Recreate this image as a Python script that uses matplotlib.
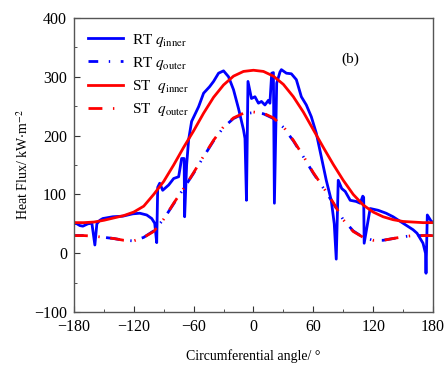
import numpy as np
import matplotlib.pyplot as plt

plt.rcParams['font.family'] = ['Liberation Serif', 'DejaVu Serif']
plt.rcParams['mathtext.fontset'] = 'stix'

# RT inner heat flux
rt_in_ang = [-180, -178, -174, -171, -166, -162, -159, -157, -154, -151, -141, -131, -121, -114,
             -107, -102, -99, -97, -96, -94, -91, -85, -80, -75, -72, -69.5, -69, -67, -65, -62,
             -55, -50, -44, -40, -35, -30, -25, -20, -15, -10, -8.5, -7, -5.5, -2, 1.5, 5, 8,
             11.5, 15, 16.5, 18.3, 20, 21, 23.3, 26.6, 28, 33, 38, 43, 48, 53, 58, 63, 68, 73,
             78, 81, 83, 85, 88.5, 92, 97, 103, 107, 109.6, 110.5, 111, 117, 125, 133, 140, 150,
             160, 164, 170, 172.5, 173, 174.3, 178.7, 180]
rt_in_val = [52, 51, 47, 46, 50, 51, 14, 50, 56, 59, 62, 63, 67, 68,
             65, 59, 51, 18, 112, 119, 107, 116, 127, 130, 161, 161, 62, 150, 193, 224,
             249, 272, 283, 292, 306, 310, 300, 278, 246, 210, 195, 90, 292, 263, 266, 255, 258,
             252, 260, 255, 306, 307, 85, 289, 308, 312, 306, 305, 295, 266, 252, 232, 204, 164, 124,
             90, 50, -10, 124, 110, 105, 90, 88, 85, 97, 95, 17, 76, 73, 68, 62, 51,
             40, 34, 17, 0, -34, 65, 53, 53]

# outer / smooth curves
ang = [-180, -170, -160, -150, -140, -130, -120, -110, -100, -90, -80, -70, -60, -50, -40, -30,
       -20, -10, 0, 10, 20, 30, 40, 50, 60, 70, 80, 90, 100, 110, 120, 130, 140, 150, 160, 170, 180]
rt_out = [30, 30, 29, 27, 25, 22, 21, 27, 38, 58, 84, 110, 136, 164, 191, 214,
          229, 237, 239, 237, 229, 214, 191, 164, 136, 111, 85, 57, 38, 27, 22, 22, 25, 28, 30, 30, 30]
st_in = [52, 52, 53, 56, 60, 64, 70, 80, 100, 122, 150, 180, 208, 238, 265, 286,
         301, 309, 311, 309, 301, 287, 266, 240, 210, 180, 151, 124, 100, 82, 70, 62, 57, 54, 53, 52, 52]
st_out = [30, 30, 29, 27, 25, 22, 21, 27, 37, 58, 85, 110, 137, 165, 192, 215,
          230, 238, 240, 238, 230, 215, 192, 165, 137, 112, 86, 57, 37, 27, 22, 22, 25, 28, 30, 30, 30]

fig = plt.figure(figsize=(4.48, 3.65), dpi=100)
ax = fig.add_axes([0.165, 0.145, 0.8015, 0.806])

dashdot = (0, (5, 3.8, 0.5, 3.8))
ax.plot(rt_in_ang, rt_in_val, color='#0000ff', lw=2.0, label=r'RT $q_{\rm inner}$')
ax.plot(ang, rt_out, color='#0000ff', lw=2.0, ls=(1.5, (5, 3.8, 0.5, 3.8)), label=r'RT $q_{\rm outer}$')
ax.plot(ang, st_in, color='#ff0000', lw=2.0, label=r'ST  $q_{\rm inner}$')
ax.plot(ang, st_out, color='#ff0000', lw=2.0, ls=dashdot, label=r'ST  $q_{\rm outer}$')

ax.set_xlim(-180, 180)
ax.set_ylim(-100, 400)
ax.set_xticks(np.arange(-180, 181, 60))
ax.set_yticks(np.arange(-100, 401, 100))
ax.set_xticks(np.arange(-150, 180, 60), minor=True)
ax.set_yticks(np.arange(-50, 400, 100), minor=True)
ax.tick_params(which='both', direction='in', labelsize=11.5, colors='#333333', labelcolor='black')
ax.tick_params(which='major', length=4, pad=5)
ax.tick_params(which='minor', length=2.5)
for s in ax.spines.values():
    s.set_color('#555555')
    s.set_linewidth(1.0)

ax.set_xlabel('Circumferential angle/ °', fontsize=10, labelpad=10)
ax.set_ylabel(r'Heat Flux/ kW$\cdot$m$^{-2}$', fontsize=10, labelpad=2)
ax.text(88, 330, '(b)', fontsize=11, ha='left', va='center')

ax.legend(loc='upper left', frameon=False, fontsize=11, handlelength=2.3,
          borderaxespad=0.5, labelspacing=0.4, handletextpad=0.6)

fig.savefig('out.png', dpi=100)
